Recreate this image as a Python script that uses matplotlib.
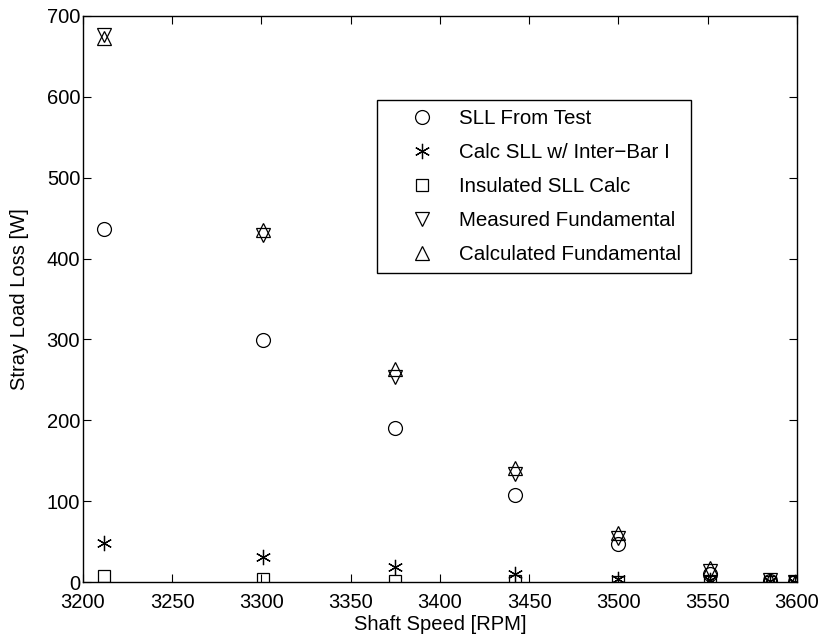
import matplotlib
matplotlib.use("Agg")
import matplotlib.pyplot as plt

plt.rcParams['font.family'] = ['Liberation Sans', 'DejaVu Sans']

speed = [3212, 3301, 3375, 3442, 3500, 3551, 3585, 3599]
sll_test = [436, 299, 191, 107, 47, 10, 1, 0]
calc_inter = [48, 31, 18, 10, 4, 3, 1, 0]
insulated = [7, 4, 1, 1, 0, 0, 0, 0]
measured = [677, 429, 254, 134, 55, 13, 2, 0]
calculated = [673, 435, 264, 141, 61, 17, 2, 0]

labels = ["SLL From Test", "Calc SLL w/ Inter\u2212Bar I", "Insulated SLL Calc",
          "Measured Fundamental", "Calculated Fundamental"]

fig = plt.figure(figsize=(8.24, 6.39), dpi=100)
ax = fig.add_axes([0.1007, 0.0892, 0.8665, 0.8858])

kw = dict(linestyle='none', color='black', markerfacecolor='none', markeredgewidth=0.9)
ax.plot(speed, sll_test, marker='o', markersize=10, label=labels[0], **kw)
ax.plot(speed, calc_inter, marker=(6, 2, 0), markersize=11, label=labels[1], **kw)
ax.plot(speed, insulated, marker='s', markersize=9, label=labels[2], **kw)
ax.plot(speed, measured, marker='v', markersize=10, label=labels[3], **kw)
ax.plot(speed, calculated, marker='^', markersize=10, label=labels[4], **kw)

ax.set_xlim(3200, 3600)
ax.set_ylim(0, 700)
ax.set_xticks(range(3200, 3601, 50))
ax.set_yticks(range(0, 701, 100))
ax.tick_params(direction='in', top=True, right=True, length=6, labelsize=14.5, width=0.8)
ax.tick_params(axis='x', pad=8)
ax.tick_params(axis='y', pad=2)
for s in ax.spines.values():
    s.set_linewidth(1.0)
ax.set_xlabel("Shaft Speed [RPM]", fontsize=14.5, labelpad=2)
ax.set_ylabel("Stray Load Loss [W]", fontsize=14.5, labelpad=13)

leg = ax.legend(loc='upper left', bbox_to_anchor=(0.412, 0.8516), fontsize=14.8,
                frameon=True, fancybox=False, edgecolor='black', framealpha=1,
                labelspacing=0.73, handlelength=3.5, handletextpad=0.05,
                borderpad=0.45, borderaxespad=0)
leg.get_frame().set_linewidth(1.0)

fig.savefig("out.png", dpi=100)
